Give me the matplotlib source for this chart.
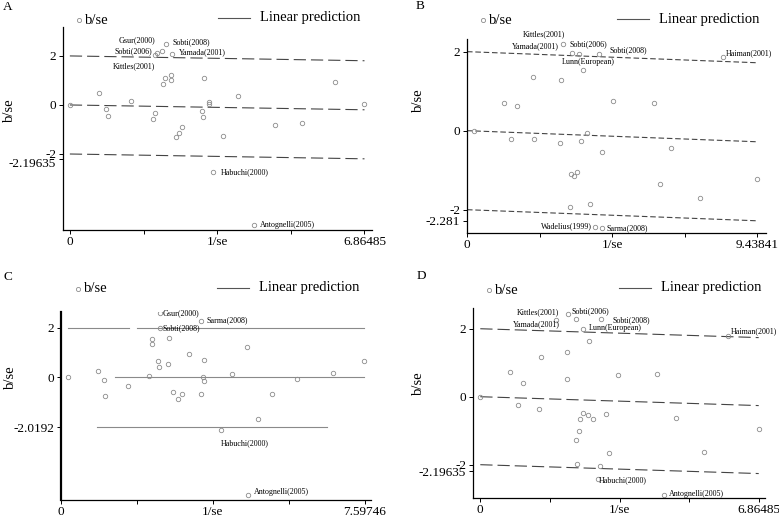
import numpy as np
import matplotlib.pyplot as plt
from matplotlib.lines import Line2D
from matplotlib.transforms import ScaledTranslation

plt.rcParams['font.family'] = ['Liberation Serif', 'DejaVu Serif']

W, H = 779, 520

# ---- panel A ----
a_x = [0.0, 0.69, 0.85, 0.89, 1.43, 1.93, 1.99, 1.99, 2.04, 2.14, 2.16, 2.21, 2.23, 2.35, 2.35, 2.37,
       2.47, 2.55, 2.61, 3.09, 3.10, 3.13, 3.25, 3.25, 3.33, 3.57, 3.92, 4.28, 4.79, 5.41, 6.17, 6.86]
a_y = [0.0, 0.48, -0.16, -0.46, 0.18, -0.57, -0.31, 2.04, 2.11, 2.22, 0.86, 1.09, 2.50, 1.22, 1.01, 2.07,
       -1.32, -1.16, -0.90, -0.23, -0.49, 1.09, 0.12, 0.03, -2.73, -1.27, 0.37, -4.90, -0.80, -0.73, 0.94, 0.05]
a_xmax = 6.86485
a_slope = -0.0286
a_yticks = [2, 0, -2, -2.19635]
a_names = ["Gsur(2000)", "Sobti(2006)", "Kittles(2001)", "Sobti(2008)", "Yamada(2001)",
           "Habuchi(2000)", "Antognelli(2005)"]
a_name_x = [1.99, 1.91, 1.99, 2.39, 2.53, 3.52, 4.42]
a_name_y = [2.65, 2.18, 1.60, 2.57, 2.15, -2.75, -4.91]
a_name_ha = ['right', 'right', 'right', 'left', 'left', 'left', 'left']

# ---- panel B ----
b_x = [0.22, 1.19, 1.42, 1.64, 2.15, 2.18, 3.01, 3.04, 3.12, 3.34, 3.37, 3.42, 3.48, 3.58, 3.64,
       3.70, 3.77, 3.90, 4.01, 4.17, 4.30, 4.39, 4.39, 4.76, 6.08, 6.26, 6.64, 7.56, 8.32, 9.43]
b_y = [-0.01, 0.69, -0.20, 0.63, 1.37, -0.22, -0.30, 1.27, 2.19, -1.92, -1.09, 1.96, -1.14, -1.05, 1.94,
       -0.27, 1.54, -0.07, -1.86, -2.43, 1.93, -0.54, -2.46, 0.75, 0.69, -1.36, -0.43, -1.70, 1.87, -1.22]
b_xmax = 9.43841
b_slope = -0.0298
b_yticks = [2, 0, -2, -2.281]
b_names = ["Kittles(2001)", "Yamada(2001)", "Sobti(2006)", "Sobti(2008)", "Lunn(European)",
           "Haiman(2001)", "Wadelius(1999)", "Sarma(2008)"]
b_name_x = [1.82, 2.99, 3.34, 4.64, 3.09, 8.41, 4.07, 4.53]
b_name_y = [2.44, 2.13, 2.19, 2.03, 1.75, 1.96, -2.43, -2.46]
b_name_ha = ['left', 'right', 'left', 'left', 'left', 'left', 'right', 'left']

# ---- panel C ----
c_x = [0.18, 0.92, 1.07, 1.11, 1.67, 2.21, 2.27, 2.29, 2.42, 2.46, 2.48, 2.48, 2.68, 2.70, 2.81, 2.94,
       3.02, 3.20, 3.50, 3.50, 3.56, 3.58, 3.59, 4.00, 4.29, 4.65, 4.69, 4.93, 5.29, 5.92, 6.81, 7.59]
c_y = [0.0, 0.26, -0.11, -0.74, -0.34, 0.05, 1.34, 1.54, 0.67, 0.40, 2.60, 2.00, 0.52, 1.60, -0.59, -0.86,
       -0.68, 0.95, -0.68, 2.28, 0.0, -0.15, 0.70, -2.12, 0.13, 1.23, -4.75, -1.66, -0.66, -0.05, 0.17, 0.66]
c_xmax = 7.59746
c_yticks = [2, 0, -2.0192]
c_line_y = [2, 2, 0, -2.0192]
c_line_x0 = [0.18, 1.91, 1.35, 0.90]
c_line_x1 = [1.70, 7.59, 7.59, 6.67]
c_names = ["Gsur(2000)", "Sobti(2008)", "Sarma(2008)", "Habuchi(2000)", "Antognelli(2005)"]
c_name_x = [2.55, 2.55, 3.65, 4.00, 4.84]
c_name_y = [2.60, 1.96, 2.31, -2.66, -4.63]
c_name_ha = ['left', 'left', 'left', 'left', 'left']

# ---- panel D ----
d_x = [0.0, 0.73, 0.92, 1.06, 1.44, 1.49, 1.86, 2.14, 2.14, 2.17, 2.35, 2.36, 2.38, 2.44, 2.47, 2.52,
       2.53, 2.65, 2.67, 2.77, 2.89, 2.96, 2.97, 3.10, 3.18, 3.40, 4.35, 4.53, 4.83, 5.52, 6.10, 6.86]
d_y = [0.0, 0.74, -0.24, 0.41, -0.36, 1.16, 2.25, 1.32, 0.52, 2.43, -1.27, 2.28, -1.99, -1.02, -0.65, -0.49,
       1.98, -0.55, 1.65, -0.65, -2.43, -2.04, 2.29, -0.51, -1.67, 0.64, 0.68, -2.89, -0.64, -1.62, 1.78, -0.96]
d_xmax = 6.86485
d_slope = -0.038
d_yticks = [2, 0, -2, -2.19635]
d_names = ["Kittles(2001)", "Yamada(2001)", "Sobti(2006)", "Sobti(2008)", "Lunn(European)",
           "Haiman(2001)", "Habuchi(2000)", "Antognelli(2005)"]
d_name_x = [1.95, 1.95, 2.25, 3.26, 2.68, 6.17, 2.93, 4.66]
d_name_y = [2.48, 2.13, 2.52, 2.25, 2.01, 1.93, -2.45, -2.87]
d_name_ha = ['right', 'right', 'left', 'left', 'left', 'left', 'left', 'left']

fig = plt.figure(figsize=(W / 100, H / 100), dpi=100)


def px_axes(l, r, t, b):
    return fig.add_axes([l / W, 1 - b / H, (r - l) / W, (b - t) / H])


def style(ax, xmax, yticks, xlim, ylim, lw_left=0.9):
    ax.set_xlim(*xlim)
    ax.set_ylim(*ylim)
    for s in ['top', 'right']:
        ax.spines[s].set_visible(False)
    ax.spines['left'].set_linewidth(lw_left)
    ax.spines['bottom'].set_linewidth(0.9)
    ax.set_xticks(np.linspace(0, xmax, 5))
    ax.set_xticklabels(['0', '', '1/se', '', '%g' % xmax])
    ax.set_yticks(yticks)
    ax.set_yticklabels(['%g' % v for v in yticks])
    ax.tick_params(axis='both', labelsize=9.5, length=3, width=0.7)
    ax.tick_params(axis='x', pad=1.5)
    ax.tick_params(axis='y', pad=2)


def points(ax, x, y):
    ax.plot(x, y, 'o', ms=3.2, mfc='none', mec='#8c8c8c', mew=0.6, ls='none')


def names(ax, nm, nx, ny, ha):
    for n, x, y, h in zip(nm, nx, ny, ha):
        ax.text(x, y, n, fontsize=5.8, ha=h, va='center')


def glines(ax, xmax, slope, dashes, offsets=(2, 0, -2)):
    xs = np.array([0, xmax])
    for o in offsets:
        ax.plot(xs, o + slope * xs, color='#444444', lw=0.8, dashes=dashes)


# A
axA = px_axes(63, 372, 27, 230)
style(axA, a_xmax, a_yticks, (-0.16, 7.04), (-5.10, 3.18))
glines(axA, a_xmax, a_slope, (11, 4.5))
points(axA, a_x, a_y)
names(axA, a_names, a_name_x, a_name_y, a_name_ha)
# the long tick label sits a little below its tick, as in Stata's output
lab = axA.get_yticklabels()[-1]
lab.set_transform(lab.get_transform() + ScaledTranslation(0, -4 / 100, fig.dpi_scale_trans))

# B
axB = px_axes(467, 766, 39, 233)
style(axB, b_xmax, b_yticks, (0, 9.72), (-2.59, 2.32))
glines(axB, b_xmax, b_slope, (5, 2.5))
points(axB, b_x, b_y)
names(axB, b_names, b_name_x, b_name_y, b_name_ha)

# C
axC = px_axes(61, 371, 312, 500)
style(axC, c_xmax, c_yticks, (0, 7.76), (-4.94, 2.63), lw_left=1.6)
for yy, x0, x1 in zip(c_line_y, c_line_x0, c_line_x1):
    axC.plot([x0, x1], [yy, yy], color='#8a8a8a', lw=0.8)
points(axC, c_x, c_y)
names(axC, c_names, c_name_x, c_name_y, c_name_ha)

# D
axD = px_axes(473, 765, 308, 498)
style(axD, d_xmax, d_yticks, (-0.18, 7.02), (-2.98, 2.61))
glines(axD, d_xmax, d_slope, (11, 4.5))
points(axD, d_x, d_y)
names(axD, d_names, d_name_x, d_name_y, d_name_ha)

# y-axis titles, panel letters and legends
for ylx, yly in [(9, 110), (418, 100), (10, 377), (418, 383)]:
    fig.text(ylx / W, 1 - yly / H, 'b/se', fontsize=10.5, rotation=90, ha='center', va='center')

for letter, lx, ly, mx, my, lnx0, lny in [
        ('A', 3, 7, 79, 20, 218, 18),
        ('B', 416, 6, 483, 20, 617, 19),
        ('C', 3, 277, 78, 289, 217, 288),
        ('D', 417, 276, 489, 290, 619, 288)]:
    fig.text(lx / W, 1 - ly / H, letter, fontsize=9.5, ha='left', va='center')
    fig.add_artist(Line2D([mx / W], [1 - my / H], marker='o', ms=3, mfc='none',
                          mec='#8c8c8c', mew=0.6, ls='none'))
    fig.text((mx + 6) / W, 1 - my / H, 'b/se', fontsize=10.5, ha='left', va='center')
    fig.add_artist(Line2D([lnx0 / W, (lnx0 + 32) / W], [1 - lny / H, 1 - lny / H],
                          color='#555555', lw=0.8))
    fig.text((lnx0 + 42) / W, 1 - lny / H, 'Linear prediction', fontsize=10.5,
             ha='left', va='center')

fig.savefig('out.png', dpi=100)
